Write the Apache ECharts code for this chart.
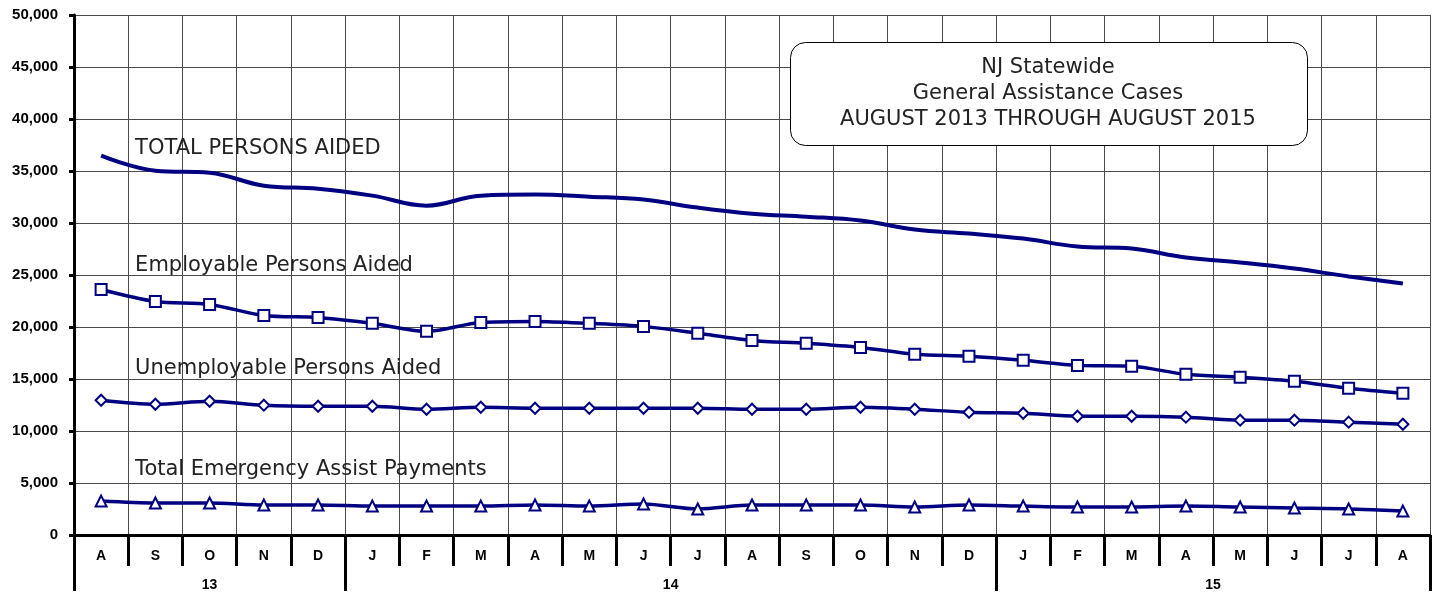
<!DOCTYPE html>
<html>
<head>
<meta charset="utf-8">
<script src="https://cdn.jsdelivr.net/npm/echarts@6/dist/echarts.min.js"></script>
<style>
html,body{margin:0;padding:0;background:#fff;}
#chart{width:1440px;height:592px;}
</style>
</head>
<body>
<div id="chart"></div>
<script>
const months = ['A','S','O','N','D','J','F','M','A','M','J','J','A','S','O','N','D','J','F','M','A','M','J','J','A'];
const yearLabels = ['13','14','15'];
const yearSpans = [5, 12, 8];
const totalPersons = [36470,35030,34840,33590,33300,32630,31670,32630,32730,32530,32250,31480,30900,30610,30230,29370,28980,28500,27740,27540,26680,26200,25620,24860,24180];
const employable = [23610,22460,22170,21110,20920,20350,19580,20440,20540,20350,20060,19390,18710,18430,18040,17370,17180,16800,16310,16220,15450,15160,14780,14110,13630];
const unemployable = [12960,12570,12860,12480,12380,12380,12090,12280,12190,12190,12190,12190,12090,12090,12280,12090,11800,11710,11420,11420,11330,11040,11040,10850,10650];
const emergency = [3260,3070,3070,2880,2880,2780,2780,2780,2880,2780,2980,2500,2880,2880,2880,2690,2880,2780,2690,2690,2780,2690,2590,2500,2300];
const seriesNames = ['TOTAL PERSONS AIDED','Employable Persons Aided','Unemployable Persons Aided','Total Emergency Assist Payments'];
const labelValues = [37330, 26100, 16220, 6530];
const titleLines = ['NJ Statewide','General Assistance Cases','AUGUST 2013 THROUGH AUGUST 2015'];

// year axis built on half-month positions
const halfCount = months.length * 2 + 1;
const yearAxisData = new Array(halfCount).fill('');
const yearTicks = new Set([0]);
let acc = 0;
yearSpans.forEach((span, i) => {
  yearAxisData[acc * 2 + span] = yearLabels[i];
  acc += span;
  yearTicks.add(acc * 2);
});

const navy = '#000080';
const annotFont = {fontFamily:'DejaVu Sans', fontSize:21, color:'#222'};

function makeSeries(name, data, symbol, size, width, labelVal, smooth) {
  return {
    name, type:'line', data, xAxisIndex:0, yAxisIndex:0,
    smooth, symbol, symbolSize:size, showSymbol: symbol !== 'none',
    lineStyle:{color:navy, width},
    itemStyle:{color:'#fff', borderColor:navy, borderWidth:2},
    emphasis:{disabled:true},
    silent:true,
    z: 3,
    markPoint:{
      silent:true,
      symbol:'circle', symbolSize:0,
      data:[{coord:[0, labelVal]}],
      label:{show:true, formatter:name, position:[34,2], align:'left', verticalAlign:'middle', ...annotFont}
    }
  };
}

const chart = echarts.init(document.getElementById('chart'), null, {renderer:'canvas'});
chart.setOption({
  animation:false,
  backgroundColor:'#fff',
  grid:{left:74, right:10, top:15, bottom:56, containLabel:false},
  xAxis:[
    {
      type:'category', data:months, boundaryGap:true, position:'bottom',
      axisLine:{show:true, lineStyle:{color:'#000', width:3}},
      axisTick:{show:true, interval:0, length:31, lineStyle:{color:'#000', width:3}},
      axisLabel:{interval:0, margin:14, color:'#000', fontFamily:'Liberation Sans', fontWeight:'bold', fontSize:14},
      splitLine:{show:true, interval:0, lineStyle:{color:'#4a4a4a', width:1}}
    },
    {
      type:'category', data:yearAxisData, boundaryGap:false, position:'bottom', offset:31,
      axisLine:{show:false},
      axisTick:{show:true, length:25, interval:(i)=>yearTicks.has(i), lineStyle:{color:'#000', width:3}},
      axisLabel:{interval:(i, v)=>v !== '', margin:12, color:'#000', fontFamily:'Liberation Sans', fontWeight:'bold', fontSize:14},
      splitLine:{show:false}
    }
  ],
  yAxis:{
    type:'value', min:0, max:50000, interval:5000,
    axisLine:{show:true, lineStyle:{color:'#000', width:3}},
    axisTick:{show:true, length:5, lineStyle:{color:'#000', width:3}},
    axisLabel:{margin:16, color:'#000', fontFamily:'Liberation Sans', fontWeight:'bold', fontSize:15,
      formatter:(v)=>v.toLocaleString('en-US')},
    splitLine:{show:true, lineStyle:{color:'#4a4a4a', width:1}}
  },
  series:[
    makeSeries(seriesNames[0], totalPersons, 'none', 0, 4, labelValues[0], 0.4),
    makeSeries(seriesNames[1], employable, 'rect', 11, 3.5, labelValues[1], 0.3),
    makeSeries(seriesNames[2], unemployable, 'diamond', 11, 3.5, labelValues[2], 0.3),
    makeSeries(seriesNames[3], emergency, 'triangle', 11, 3.5, labelValues[3], 0.3)
  ],
  graphic:[
    {
      type:'rect', left:790, top:42, z:100,
      shape:{x:0, y:0, width:517, height:103, r:15},
      style:{fill:'#ffffff', stroke:'#000', lineWidth:1}
    },
    {
      type:'text', x:1048, y:55, z:101,
      style:{text:titleLines.join('\n'), align:'center', verticalAlign:'top', lineHeight:26,
        fontFamily:'DejaVu Sans', fontSize:21, fill:'#222'}
    }
  ]
});
</script>
</body>
</html>
